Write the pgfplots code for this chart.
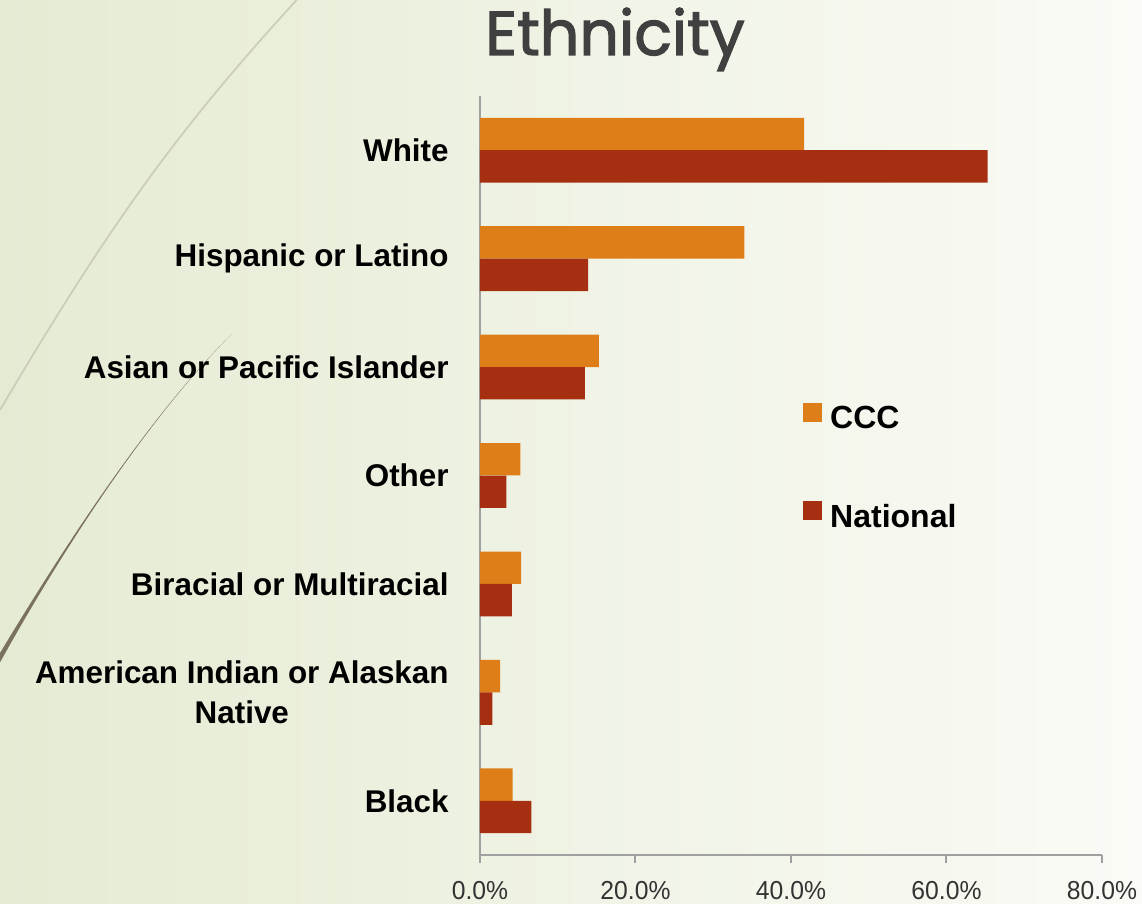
\documentclass[border=0pt]{standalone}
\usepackage{fontspec}
\setmainfont{Liberation Sans}
\newfontfamily\titlefont[FakeBold=2]{Poppins}
\newfontfamily\tickfont[FakeStretch=0.95]{Liberation Sans}
\usepackage{pgfplots}
\usepackage{pgfplotstable}
\pgfplotsset{compat=1.18}

\definecolor{ccc}{HTML}{DE7E18}
\definecolor{nat}{HTML}{A52F10}
\definecolor{axisgray}{HTML}{A0A0A0}
\definecolor{titlegray}{HTML}{404040}
\definecolor{bgleft}{RGB}{229,235,211}
\definecolor{bgright}{RGB}{250,251,246}
\definecolor{swoosh}{RGB}{122,114,94}
\definecolor{swooshlight}{RGB}{203,206,186}

% 0 = Black (bottom) ... 6 = White (top), values in percent
\pgfplotstableread{
cat ccc national
0 4.2 6.6
1 2.6 1.6
2 5.3 4.1
3 5.2 3.4
4 15.3 13.5
5 34.0 13.9
6 41.7 65.3
}\ethnic

\begin{document}
\begin{tikzpicture}
\useasboundingbox (0pt,0pt) rectangle (571pt,452pt);
\shade[left color=bgleft, right color=bgright] (0pt,0pt) rectangle (571pt,452pt);
% background swooshes
\begin{scope}[x=1pt,y=1pt]
  \draw[swooshlight, line width=0.9pt]
    (148.3,452) .. controls (88,386) and (55,340) .. (0,247);
  \fill[swoosh]
    (115.8,285) .. controls (75.8,245) and (35,183.6) .. (0,125.5)
    -- (0,120.8) .. controls (33.5,181) and (75.5,244.3) .. (115.8,285) -- cycle;
\end{scope}
\node[font=\titlefont\fontsize{31}{36}\selectfont, text=titlegray, anchor=base]
  at (307.5pt,424.5pt) {Ethnicity};

\begin{axis}[
  at={(240pt,24.5pt)}, anchor=south west,
  scale only axis, width=311pt, height=379.5pt,
  xmin=0, xmax=80, ymin=-0.5, ymax=6.5,
  axis lines*=left,
  axis line style={axisgray, line width=1pt},
  tick align=outside,
  major tick length=4pt, minor tick length=4pt,
  tick style={axisgray, line width=1pt},
  xtick={0,20,40,60,80},
  xticklabels={0.0\%,20.0\%,40.0\%,60.0\%,80.0\%},
  xticklabel style={font=\tickfont\fontsize{13}{15}\selectfont, text=black!80, inner sep=0pt, anchor=north, yshift=-9pt},
  ytick={0,...,6},
  yticklabels={Black,{American Indian or Alaskan\\Native},Biracial or Multiracial,Other,Asian or Pacific Islander,Hispanic or Latino,White},
  yticklabel style={font=\bfseries\fontsize{15.7}{20}\selectfont, align=center, anchor=east, inner sep=0pt, xshift=-11.5pt},
  ytick style={draw=none},
  minor ytick={-0.5,0.5,...,6.5},
  minor tick style={axisgray, line width=1pt},
  bar width=16.2pt,
  legend style={at={(0.519,0.5092)}, anchor=west, draw=none, fill=none,
    font=\bfseries\fontsize{16}{19}\selectfont, row sep=32.5pt, inner sep=0pt,
    nodes={inner sep=2pt}, /tikz/column 2/.style={column sep=0pt},
    /tikz/column 1/.style={column sep=2pt}},
  legend cell align=left,
  legend image code/.code={\fill[#1] (0pt,-1.3pt) rectangle (9.5pt,8.2pt);},
]
\addplot[xbar, fill=ccc, draw=none, bar shift=8.1pt] table[x=ccc, y=cat] {\ethnic};
\addplot[xbar, fill=nat, draw=none, bar shift=-8.1pt] table[x=national, y=cat] {\ethnic};
\legend{CCC, National}
\end{axis}
\end{tikzpicture}
\end{document}
